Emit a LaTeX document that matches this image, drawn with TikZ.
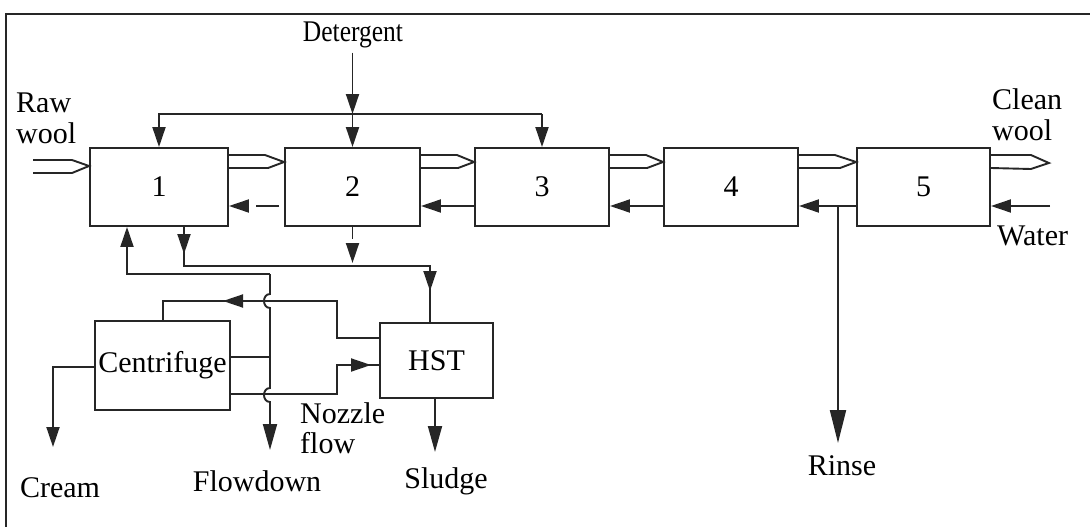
\documentclass[tikz,border=0pt]{standalone}
\usepackage{fontspec}
\usepackage{graphicx}
\setmainfont{Liberation Serif}
\usetikzlibrary{arrows.meta}
\begin{document}
\begin{tikzpicture}[x=1pt,y=-1pt,
  ink/.style={draw=black!85,line width=1.9pt},
  box/.style={ink,rectangle,inner sep=0pt,minimum height=78pt,font=\fontsize{30}{30}\selectfont},
  arr/.style={ink,-{Triangle[length=20pt,width=13pt]},black!85},
  arrl/.style={ink,-{Triangle[length=26pt,width=14pt]},black!85},
  arrr/.style={ink,-{Triangle[length=33pt,width=16pt]},black!85},
  lbl/.style={font=\fontsize{30}{30}\selectfont,inner sep=0pt,text=black},
  wool/.style={ink,line join=miter}
]
\useasboundingbox (0,0) rectangle (1090,527);
% frame (top and left edges)
\draw[ink,line width=1.6pt] (1090,14) -- (6,14) -- (6,527);

% washing bowls
\node[box,minimum width=138pt] (b1) at (159,187) {1};
\node[box,minimum width=135pt] (b2) at (352.5,187) {2};
\node[box,minimum width=134pt] (b3) at (542,187) {3};
\node[box,minimum width=134pt] (b4) at (731,187) {4};
\node[box,minimum width=133pt] (b5) at (923.5,187) {5};
\node[box,minimum width=135pt,minimum height=89pt] (cen) at (162.5,365.5) {Centrifuge};
\node[box,minimum width=113pt,minimum height=75pt] (hst) at (436.5,360.5) {HST};

% labels
\node[lbl,anchor=base west] (raw) at (16,113) {Raw};
\node[lbl,anchor=base west] (raww) at (16,143) {wool};
\node[lbl,anchor=base west] (clean) at (992,110) {Clean};
\node[lbl,anchor=base west] (cleanw) at (992,140) {wool};
\node[lbl,anchor=base west] (water) at (997,245) {Water};
\node[lbl,anchor=base] (det) at (353,42) {\scalebox{0.85}[1]{Detergent}};
\node[lbl,anchor=base] (rinse) at (842,475) {Rinse};
\node[lbl,anchor=base] (cream) at (60,497) {Cream};
\node[lbl,anchor=base] (flowdown) at (257,491) {Flowdown};
\node[lbl,anchor=base] (sludge) at (446,488) {Sludge};
\node[lbl,anchor=base west] (nozzle) at (300,423) {Nozzle};
\node[lbl,anchor=base west] (nflow) at (300,453) {flow};

% level coordinates
\coordinate (wu) at (0,155);
\coordinate (wl) at (0,168);
\coordinate (wt) at (0,162);
\coordinate (rb) at (0,206);

% wool flow (double-line arrows)
\draw[wool] (33,160) -- (72,160) -- (b1.west|-0,166) -- (72,173) -- (33,173);
\foreach \a/\b in {b1/b2,b2/b3,b3/b4,b4/b5}
  \draw[wool] (\a.east|-wu) -- ++(36,0) -- (\b.west|-wt) -- ++(-16,6) -- (\a.east|-wl);
\draw[wool] (b5.east|-wu) -- ++(40,0) -- ++(18,8) -- ++(-18,6) -- (b5.east|-wl);

% counter-current liquor
\draw[arr,dash pattern=on 0pt off 5pt on 23pt off 100pt] (b2.west|-rb) -- (b1.east|-rb);
\foreach \a/\b in {b3/b2,b4/b3,b5/b4}
  \draw[arr] (\a.west|-rb) -- (\b.east|-rb);
\coordinate (wtr) at (1050,206);
\draw[arr] (wtr) -- (b5.east|-rb);
\coordinate (rj) at (838,206);
\coordinate (rinseend) at (838,443);
\draw[arrr] (rj) -- (rinseend);

% top recycle and detergent
\coordinate (tl) at (159,114);
\coordinate (tr) at (542,114);
\draw[arr] (tr) -- (tl) -- (b1.north);
\draw[arr] (tr) -- (b3.north);
\coordinate (dj) at (352.5,114);
\draw[arr,shorten <=4pt] (dj|-det.south) -- (dj);
\draw[arr] (dj) -- (b2.north);

% bowl 1 and bowl 2 to HST
\draw[arr] (b1.south-|184,0) -- (184,254);
\draw[ink] (184,250) -- (184,266) -- (430,266) -- (430,280);
\draw[arr] (430,272) -- (430,291);
\draw[ink] (430,288) -- (hst.north-|430,0);
\draw[arr,dash pattern=on 12pt off 5pt] (b2.south) -- (352.5,263);

% flowdown line with jumps, and recycle to bowl 1
\draw[arr] (270,274) -- (127,274) -- (b1.south-|127,0);
\draw[arrl] (270,274) -- (270,294) .. controls (262,294) and (262,308) .. (270,308)
  -- (270,388) .. controls (262,388) and (262,402) .. (270,402) -- (270,450);
\draw[ink] (cen.east|-0,357) -- (270,357);

% HST to centrifuge
\draw[ink] (hst.west|-0,338) -- (337,338) -- (337,301) -- (235,301);
\draw[arr] (250,301) -- (223,301);
\draw[ink] (226,301) -- (163,301) -- (cen.north-|163,0);

% centrifuge to HST
\draw[ink] (cen.east|-0,394) -- (337,394) -- (337,365) -- (hst.west|-0,365);
\draw[arr] (345,365) -- (371,365);

% outputs
\draw[arr] (cen.west|-0,367) -- (53,367) -- (53,447);
\draw[arrl] (hst.south-|435,0) -- (435,452);
\end{tikzpicture}
\end{document}
